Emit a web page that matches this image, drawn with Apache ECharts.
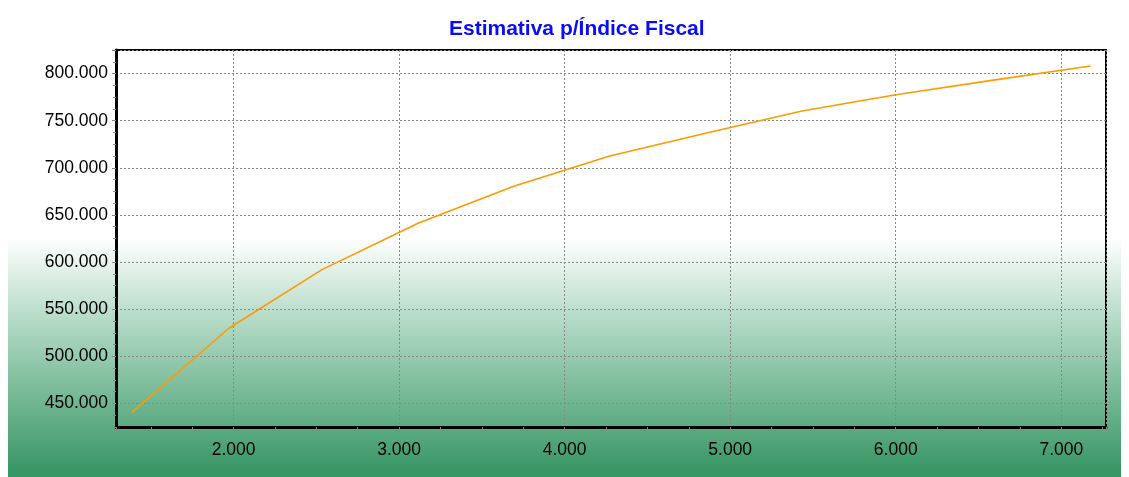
<!DOCTYPE html>
<html>
<head>
<meta charset="utf-8">
<script src="https://cdn.jsdelivr.net/npm/echarts@6/dist/echarts.min.js"></script>
<style>
html,body{margin:0;padding:0;background:#fff;}
#c{width:1129px;height:477px;}
</style>
</head>
<body>
<div id="c"></div>
<script>
const titleText = 'Estimativa p/Índice Fiscal';
const xValues = [1386, 1970, 2534, 3118, 3692, 4272, 4870, 5434, 6000, 6590, 7176];
const yValues = [440.5, 529.5, 592, 641.5, 680.5, 712.6, 737.4, 760.3, 777.5, 793, 808];

const fmt = v => {
  const s = Math.round(v).toString();
  return s + '.000';
};
const fmtX = v => {
  const t = Math.round(v / 1000);
  return t + '.000';
};

const chart = echarts.init(document.getElementById('c'), null, {renderer: 'canvas'});
const FONT = '"Liberation Sans", Arial, sans-serif';
chart.setOption({
  animation: false,
  backgroundColor: '#fff',
  title: {
    text: titleText,
    left: 444,
    top: 14,
    textStyle: {color: '#0a0aff', fontSize: 21, fontWeight: 'bold', fontFamily: FONT}
  },
  graphic: [{
    type: 'rect',
    z: -10,
    silent: true,
    shape: {x: 8, y: 237, width: 1113, height: 240},
    style: {
      fill: new echarts.graphic.LinearGradient(0, 0, 0, 1, [
        {offset: 0, color: '#ffffff'},
        {offset: 0.35, color: '#b3dac5'},
        {offset: 1, color: '#349462'}
      ])
    }
  }],
  grid: {
    left: 116, right: 23, top: 50, bottom: 50,
    show: true, borderColor: '#000', borderWidth: 2, backgroundColor: 'transparent'
  },
  xAxis: {
    type: 'value',
    min: 1290, max: 7270, splitNumber: 6,
    axisLine: {show: true, onZero: false, lineStyle: {color: '#000', width: 3}},
    axisTick: {show: true, length: 5, lineStyle: {color: '#888', width: 1}},
    minorTick: {show: true, splitNumber: 4, length: 4, lineStyle: {color: '#888', width: 1}},
    splitLine: {show: true, lineStyle: {color: '#888', type: [2, 2], width: 1}},
    axisLabel: {
      showMinLabel: false, showMaxLabel: false,
      color: '#000', fontSize: 17.5, fontFamily: FONT, margin: 14,
      formatter: fmtX
    }
  },
  yAxis: {
    type: 'value',
    min: 425, max: 825, splitNumber: 8,
    axisLine: {show: true, onZero: false, lineStyle: {color: '#000', width: 3}},
    axisTick: {show: true, length: 4, lineStyle: {color: '#888', width: 1}},
    minorTick: {show: true, splitNumber: 4, length: 3, lineStyle: {color: '#888', width: 1}},
    splitLine: {show: true, lineStyle: {color: '#888', type: [2, 2], width: 1}},
    axisLabel: {
      showMinLabel: false, showMaxLabel: false,
      color: '#000', fontSize: 17.5, fontFamily: FONT, margin: 8,
      formatter: fmt
    }
  },
  series: [{
    type: 'line',
    data: xValues.map((x, i) => [x, yValues[i]]),
    showSymbol: false,
    lineStyle: {color: '#ff9a00', width: 1.6},
    z: 5
  }]
});
</script>
</body>
</html>
